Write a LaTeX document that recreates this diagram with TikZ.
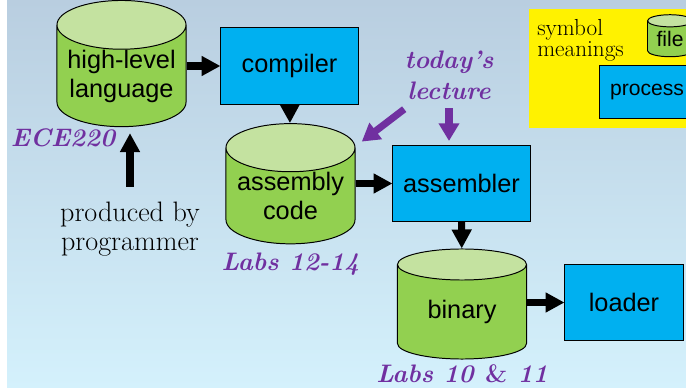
\documentclass[tikz,border=0pt]{standalone}
\usepackage{fontspec}
\newfontfamily\arialfont{Liberation Sans}
\usetikzlibrary{arrows.meta,positioning,shapes.geometric}
\definecolor{filegreen}{HTML}{92D050}
\definecolor{filetop}{HTML}{C4E2A0}
\definecolor{procblue}{HTML}{00B0F0}
\definecolor{notepurple}{HTML}{7030A0}
\definecolor{bgtop}{HTML}{B9CEE0}
\definecolor{bgbottom}{HTML}{D4F1FC}

\begin{document}
\begin{tikzpicture}[
  x=0.025cm, y=-0.025cm,
  >=Latex,
  proc/.style={rectangle, draw=black, fill=procblue, line width=0.7pt, minimum width=3.425cm, minimum height=1.9cm, font=\arialfont\fontsize{18}{20.6}\selectfont},
  store/.style={cylinder, shape border rotate=90, aspect=0.45, draw=black, line width=0.7pt, cylinder uses custom fill, cylinder body fill=filegreen, cylinder end fill=filetop, minimum width=3.225cm, minimum height=2.75cm, inner sep=0pt, align=center, font=\arialfont\fontsize{18}{20.6}\selectfont},
  labnote/.style={text=notepurple, align=center, font=\bfseries\itshape\fontsize{18}{22}\selectfont},
  remark/.style={align=center, font=\fontsize{20}{20.6}\selectfont},
  flow/.style={-{Triangle[length=13.5pt,width=13.5pt]}, line width=5pt},
  hint/.style={-{Triangle[length=12.5pt,width=14pt]}, line width=5pt, draw=notepurple}
]
\useasboundingbox (0,0) rectangle (686,388);
\shade[top color=bgtop, bottom color=bgbottom] (7,0) rectangle (686,388);

% legend
\node[fill=yellow, inner sep=0pt, anchor=north west, minimum width=4.2cm, minimum height=2.975cm] (legend) at (529,9) {};
\node[remark, align=left, anchor=north west, inner sep=0pt, font=\fontsize{16.5}{15}\selectfont] (meaning) at (537,19) {symbol\\meanings};
\node[store, minimum width=1.125cm, minimum height=1.05cm, font=\arialfont\fontsize{15}{17}\selectfont] (legfile) at (670,39) {file};
\node[proc, minimum width=2.35cm, minimum height=1.325cm, font=\arialfont\fontsize{15}{17}\selectfont] (legproc) at (647,92) {process};

% tool chain
\node[store] (hll) at (121.5,76) {high-level\\language};
\node[proc] (compiler) at (289.5,66) {compiler};
\node[store] (asmcode) at (290.5,196) {assembly\\code};
\node[proc] (assembler) at (461.5,183.5) {assembler};
\node[store] (binary) at (462,312) {binary};
\node[proc, minimum width=2.95cm] (loader) at (624,302.5) {loader};

\node[labnote] (ece) at (63,138) {ECE220};
\node[labnote, below=1mm of asmcode] (labsmid) {Labs 12-14};
\node[labnote, below=0mm of binary] (labslow) {Labs 10 \textup{\&} 11};
\node[labnote] (lecture) at (449,75) {today's\\lecture};
\node[remark] (prog) at (130,229) {produced by\\programmer};

\draw[flow] (compiler -| hll.east) -- (compiler);
\draw[flow] (compiler) -- (asmcode);
\draw[flow] (assembler -| asmcode.east) -- (assembler);
\draw[flow] (assembler) -- (binary);
\draw[flow] (loader -| binary.east) -- (loader);
\draw[flow, shorten <=2.5mm, shorten >=1.5mm] (prog.north) -- (prog.north |- hll.south);

\draw[hint, shorten <=2mm, shorten >=2mm] (lecture) -- (asmcode);
\draw[hint, shorten <=1mm, shorten >=1mm] (lecture.south) -- (lecture.south |- assembler.north);
\end{tikzpicture}
\end{document}
